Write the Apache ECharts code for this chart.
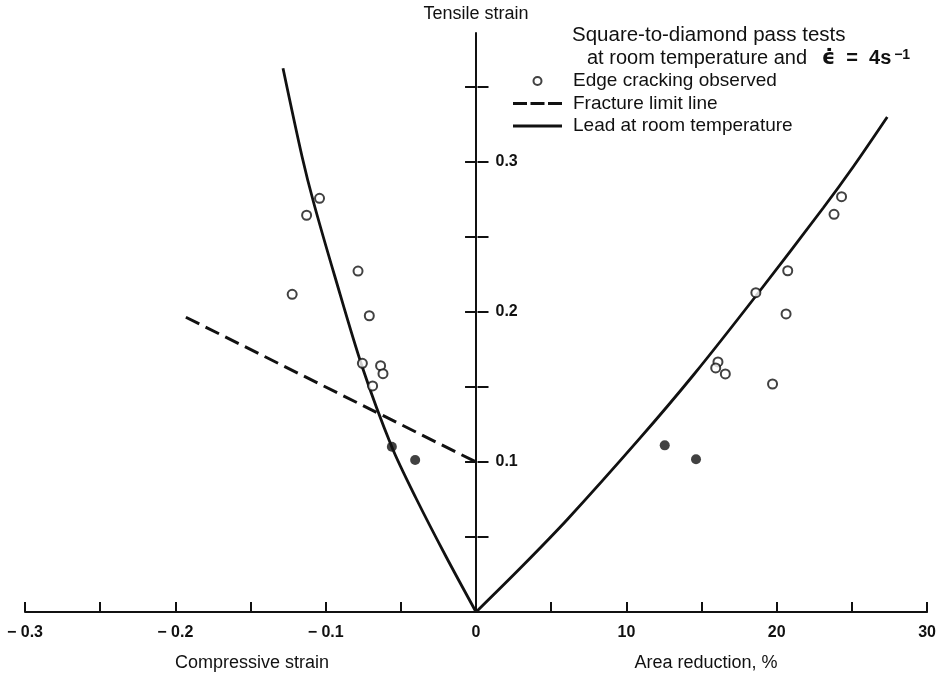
<!DOCTYPE html>
<html>
<head>
<meta charset="utf-8">
<script src="https://cdn.jsdelivr.net/npm/echarts@6/dist/echarts.min.js"></script>
<style>
  html, body { margin: 0; padding: 0; background: #fff; }
  #chart { width: 939px; height: 676px; }
</style>
</head>
<body>
<div id="chart"></div>
<script>
// Tensile strain vs. compressive strain (left) and area reduction (right)
// Square-to-diamond pass tests on lead at room temperature.

// Edge cracking observed: [compressive strain, tensile strain]
const crackedStrain = [
  [-0.1041, 0.2758], [-0.1127, 0.2645], [-0.0785, 0.2273], [-0.1223, 0.2118],
  [-0.0710, 0.1975], [-0.0756, 0.1658], [-0.0635, 0.1642], [-0.0619, 0.1589],
  [-0.0688, 0.1507]
];
// Edge cracking observed: [area reduction %, tensile strain]
const crackedArea = [
  [24.31, 0.2769], [23.81, 0.2651], [20.73, 0.2275], [18.61, 0.2129],
  [20.62, 0.1987], [16.09, 0.1667], [15.94, 0.1627], [16.58, 0.1587],
  [19.72, 0.1520]
];
// Sound specimens (no edge cracking)
const soundStrain = [[-0.0560, 0.1102], [-0.0405, 0.1013]];
const soundArea = [[12.55, 0.1111], [14.63, 0.1018]];

// Fracture limit line: [compressive strain, tensile strain]
const fractureLine = [[-0.193, 0.1965], [0, 0.1]];

// Lead at room temperature, strain path
const leadStrain = [
  [0, 0], [-0.02, 0.037], [-0.04, 0.076], [-0.056, 0.110], [-0.0759, 0.164],
  [-0.094, 0.224], [-0.1079, 0.2725], [-0.1157, 0.3035], [-0.1284, 0.3625]
];
// Lead at room temperature vs. area reduction
const leadArea = [
  [0, 0], [3.0, 0.0298], [6.1, 0.062], [10.8, 0.1147], [14.5, 0.1585],
  [18.6, 0.2105], [23.1, 0.2695], [25.1, 0.297], [27.35, 0.330]
];

// Axis ticks and labels
const strainTicks = [-0.3, -0.25, -0.2, -0.15, -0.1, -0.05, 0, 0.05, 0.1, 0.15, 0.2, 0.25, 0.3];
const strainLabels = [-0.3, -0.2, -0.1, 0];
const areaLabels = [10, 20, 30];
const tensileTicks = [0.05, 0.1, 0.15, 0.2, 0.25, 0.3, 0.35];
const tensileLabels = [0.1, 0.2, 0.3];

const SANS = '"Liberation Sans", Arial, Helvetica, sans-serif';
const NARROW = '"Liberation Sans Narrow", "Liberation Sans", Arial, sans-serif';
const INK = '#111';

const GRID = { left: 25, right: 9, top: 33, bottom: 64 };
// horizontal distance from the grid's left edge to the zero of the strain axis
const ZERO_SHIFT = (939 - GRID.left - GRID.right) / 2;

const tickLabelStyle = {
  color: INK,
  fontFamily: NARROW,
  fontSize: 16,
  fontWeight: 'bold'
};

const openSymbol = {
  symbol: 'circle',
  symbolSize: 9,
  itemStyle: { color: '#fff', borderColor: INK, borderWidth: 2 },
  z: 4
};
const filledSymbol = {
  symbol: 'circle',
  symbolSize: 10,
  itemStyle: { color: INK, borderColor: INK, borderWidth: 0 },
  z: 4
};

const chart = echarts.init(document.getElementById('chart'), null, { renderer: 'canvas' });

chart.setOption({
  animation: false,
  backgroundColor: '#fff',
  grid: GRID,
  xAxis: [
    {
      type: 'value',
      min: -0.3,
      max: 0.3,
      position: 'bottom',
      splitLine: { show: false },
      axisLine: { show: true, onZero: true, lineStyle: { color: INK, width: 2 } },
      axisTick: { show: true, inside: true, length: 10, customValues: strainTicks,
                  lineStyle: { color: INK, width: 2 } },
      axisLabel: Object.assign({
        customValues: strainLabels,
        margin: 13,
        formatter: v => (Math.abs(v) < 1e-9 ? '0' : '\u2212 ' + Math.abs(v).toFixed(1))
      }, tickLabelStyle)
    },
    {
      type: 'value',
      min: -30,
      max: 30,
      position: 'bottom',
      splitLine: { show: false },
      axisLine: { show: false },
      axisTick: { show: false },
      axisLabel: Object.assign({
        customValues: areaLabels,
        margin: 13,
        formatter: v => String(v)
      }, tickLabelStyle)
    }
  ],
  yAxis: [
    {
      type: 'value',
      min: 0,
      max: 0.386,
      position: 'left',
      name: 'Tensile strain',
      nameLocation: 'end',
      nameGap: 10,
      nameTextStyle: { color: INK, fontFamily: SANS, fontSize: 18 },
      splitLine: { show: false },
      axisLine: { show: true, onZero: true, lineStyle: { color: INK, width: 2 } },
      axisTick: { show: true, inside: false, length: 11, customValues: tensileTicks,
                  lineStyle: { color: INK, width: 2 } },
      axisLabel: { show: false }
    },
    {
      // right-hand half of the crossing ticks and the tick labels
      type: 'value',
      min: 0,
      max: 0.386,
      position: 'left',
      offset: -ZERO_SHIFT,
      splitLine: { show: false },
      axisLine: { show: false, onZero: false },
      axisTick: { show: true, inside: true, length: 11, customValues: tensileTicks,
                  lineStyle: { color: INK, width: 2 } },
      axisLabel: Object.assign({
        inside: true,
        margin: 18,
        customValues: tensileLabels,
        formatter: v => v.toFixed(1)
      }, tickLabelStyle)
    }
  ],
  legend: {
    orient: 'vertical',
    left: 513,
    top: 71,
    padding: 0,
    itemWidth: 49,
    itemHeight: 8,
    itemGap: 2.5,
    selectedMode: false,
    data: [
      { name: 'Edge cracking observed' },
      { name: 'Fracture limit line',
        icon: 'path://M0,0h14v3h-14zM17.5,0h14v3h-14zM35,0h14v3h-14z' },
      { name: 'Lead at room temperature', icon: 'path://M0,0h49v3h-49z' }
    ],
    textStyle: { color: INK, fontFamily: SANS, fontSize: 19, lineHeight: 20, padding: [0, 0, 0, 6] }
  },
  graphic: [
    {
      type: 'text', left: 572, top: 25, silent: true,
      style: { text: 'Square-to-diamond pass tests', fill: INK, font: '20.5px ' + SANS }
    },
    {
      type: 'text', left: 587, top: 48, silent: true,
      style: {
        text: 'at room temperature and {e|\u03f5\u0307}{b|  =  4s}{sup|\u2009\u22121}',
        fill: INK,
        font: '20px ' + SANS,
        rich: {
          e: { fontSize: 21, fontFamily: '"DejaVu Sans", sans-serif', fontWeight: 'bold', fill: INK,
               padding: [0, 0, 0, 9] },
          b: { fontSize: 20, fontFamily: SANS, fontWeight: 'bold', fill: INK },
          sup: { fontSize: 14, fontFamily: SANS, fontWeight: 'bold', fill: INK, verticalAlign: 'top' }
        }
      }
    },
    {
      type: 'text', x: 252, y: 663, silent: true,
      style: { text: 'Compressive strain', fill: INK, font: '18px ' + SANS,
               textAlign: 'center', textVerticalAlign: 'middle' }
    },
    {
      type: 'text', x: 706, y: 663, silent: true,
      style: { text: 'Area reduction, %', fill: INK, font: '18px ' + SANS,
               textAlign: 'center', textVerticalAlign: 'middle' }
    }
  ],
  series: [
    {
      name: 'Fracture limit line', type: 'line', xAxisIndex: 0, yAxisIndex: 0,
      data: fractureLine, symbol: 'none', z: 2,
      lineStyle: { color: INK, width: 3, type: [15, 7] }, itemStyle: { color: INK }
    },
    {
      name: 'Lead at room temperature', type: 'line', xAxisIndex: 0, yAxisIndex: 0,
      data: leadStrain, symbol: 'none', smooth: 0.3, z: 2,
      lineStyle: { color: INK, width: 2.8 }, itemStyle: { color: INK }
    },
    {
      name: 'Lead at room temperature', type: 'line', xAxisIndex: 1, yAxisIndex: 0,
      data: leadArea, symbol: 'none', smooth: 0.3, z: 2,
      lineStyle: { color: INK, width: 2.8 }, itemStyle: { color: INK }
    },
    Object.assign({ name: 'Edge cracking observed', type: 'scatter',
                    xAxisIndex: 0, yAxisIndex: 0, data: crackedStrain }, openSymbol),
    Object.assign({ name: 'Edge cracking observed', type: 'scatter',
                    xAxisIndex: 1, yAxisIndex: 0, data: crackedArea }, openSymbol),
    Object.assign({ name: 'No edge cracking', type: 'scatter',
                    xAxisIndex: 0, yAxisIndex: 0, data: soundStrain }, filledSymbol),
    Object.assign({ name: 'No edge cracking', type: 'scatter',
                    xAxisIndex: 1, yAxisIndex: 0, data: soundArea }, filledSymbol)
  ]
});
</script>
</body>
</html>
